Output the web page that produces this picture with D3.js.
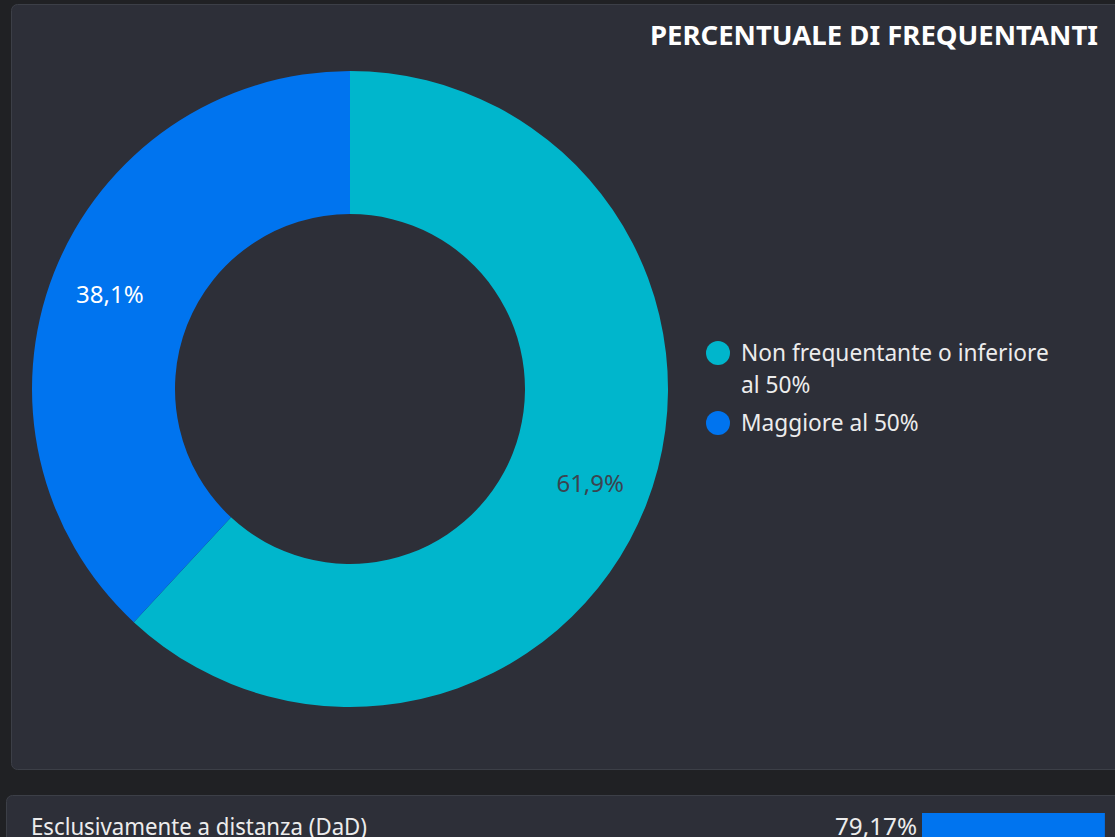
<!DOCTYPE html>
<html>
<head>
<meta charset="utf-8">
<script src="https://cdn.jsdelivr.net/npm/d3@7"></script>
<style>
  body { margin: 0; background: #202124; overflow: hidden; }
  svg { display: block; font-family: "Noto Sans", "Open Sans", sans-serif; }
</style>
</head>
<body>
<div id="chart"></div>
<script>
// data
const categories = ["Non frequentante o inferiore al 50%", "Maggiore al 50%"];
const legendLines = [["Non frequentante o inferiore", "al 50%"], ["Maggiore al 50%"]];
const values = [61.9, 38.1];
const colors = ["#00b6cc", "#0074ef"];
const labelColors = ["#3b4450", "#ffffff"];

const barLabels = ["Esclusivamente a distanza (DaD)"];
const barValues = [79.17];

const W = 1115, H = 837;
const svg = d3.select("#chart").append("svg")
    .attr("width", W)
    .attr("height", H);

// panels
svg.append("rect")
    .attr("x", 11.5).attr("y", 4.5)
    .attr("width", 1120).attr("height", 765)
    .attr("rx", 6)
    .attr("fill", "#2d2f38")
    .attr("stroke", "#3c3f47");

svg.append("rect")
    .attr("x", 6.5).attr("y", 795.5)
    .attr("width", 1120).attr("height", 80)
    .attr("rx", 6)
    .attr("fill", "#2d2f38")
    .attr("stroke", "#3c3f47");

// title
svg.append("text")
    .attr("x", 1098).attr("y", 45)
    .attr("text-anchor", "end")
    .attr("font-size", 27.5)
    .attr("font-weight", "bold")
    .attr("fill", "#ffffff")
    .text("PERCENTUALE DI FREQUENTANTI");

// donut
const cx = 350, cy = 389, outerR = 318, innerR = 175;
const pie = d3.pie().sort(null).value(d => d);
const arc = d3.arc().innerRadius(innerR).outerRadius(outerR);
const labelArc = d3.arc().innerRadius(258).outerRadius(258);
const arcs = pie(values);

const g = svg.append("g").attr("transform", `translate(${cx},${cy})`);

g.selectAll("path.slice")
    .data(arcs)
    .enter()
    .append("path")
    .attr("class", "slice")
    .attr("d", arc)
    .attr("fill", (d, i) => colors[i]);

const fmt = v => d3.format(".1f")(v).replace(".", ",") + "%";

g.selectAll("text.pct")
    .data(arcs)
    .enter()
    .append("text")
    .attr("class", "pct")
    .attr("transform", d => `translate(${labelArc.centroid(d)})`)
    .attr("text-anchor", "middle")
    .attr("dy", "0.35em")
    .attr("font-size", 24)
    .attr("fill", (d, i) => labelColors[i])
    .text(d => fmt(d.data));

// legend
const legend = svg.append("g").attr("transform", "translate(718,353)");
let ly = 0;
legendLines.forEach((lines, i) => {
    const item = legend.append("g").attr("transform", `translate(0,${ly})`);
    item.append("circle")
        .attr("r", 12)
        .attr("fill", colors[i]);
    lines.forEach((t, j) => {
        item.append("text")
            .attr("x", 23)
            .attr("y", j * 32)
            .attr("dy", "0.35em")
            .attr("font-size", 22.7)
            .attr("fill", "#ececec")
            .text(t);
    });
    ly += lines.length * 32 + 6;
});

// bottom bar row
const xBar = d3.scaleLinear().domain([0, 100]).range([0, 231]);
const row = svg.append("g").attr("transform", "translate(0,813)");
row.append("text")
    .attr("x", 31).attr("y", 22)
    .attr("font-size", 23)
    .attr("textLength", 336)
    .attr("lengthAdjust", "spacingAndGlyphs")
    .attr("fill", "#ececec")
    .text(barLabels[0]);
row.append("text")
    .attr("x", 917).attr("y", 22)
    .attr("text-anchor", "end")
    .attr("font-size", 23)
    .attr("textLength", 82)
    .attr("lengthAdjust", "spacingAndGlyphs")
    .attr("fill", "#ececec")
    .text(d3.format(".2f")(barValues[0]).replace(".", ",") + "%");
row.append("rect")
    .attr("x", 922).attr("y", 0)
    .attr("width", xBar(barValues[0]))
    .attr("height", 30)
    .attr("fill", "#0074ef");
</script>
</body>
</html>
